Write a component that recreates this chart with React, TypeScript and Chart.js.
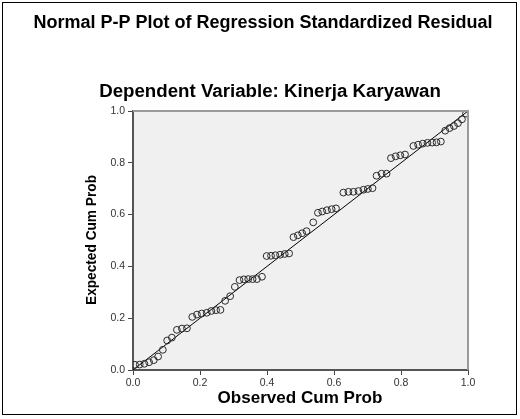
import React, { useEffect, useRef } from "react";
import { Chart, registerables } from "chart.js";

Chart.register(...registerables);

// Observed cumulative probability (x) and expected cumulative probability (y)
const OBSERVED_CUM_PROB = [
  0.006, 0.020, 0.034, 0.048, 0.062, 0.075, 0.089, 0.102, 0.116, 0.131,
  0.146, 0.161, 0.177, 0.191, 0.205, 0.220, 0.234, 0.248, 0.261, 0.275,
  0.290, 0.304, 0.318, 0.331, 0.344, 0.357, 0.370, 0.385, 0.399, 0.412,
  0.425, 0.439, 0.453, 0.466, 0.479, 0.492, 0.505, 0.518, 0.538, 0.552,
  0.565, 0.579, 0.593, 0.606, 0.628, 0.643, 0.658, 0.673, 0.688, 0.701,
  0.715, 0.727, 0.742, 0.757, 0.770, 0.784, 0.798, 0.812, 0.837, 0.851,
  0.865, 0.879, 0.893, 0.906, 0.919, 0.932, 0.945, 0.958, 0.970, 0.982,
  0.994,
];
const EXPECTED_CUM_PROB = [
  0.020, 0.021, 0.024, 0.030, 0.038, 0.052, 0.078, 0.114, 0.125, 0.155,
  0.160, 0.161, 0.205, 0.214, 0.218, 0.221, 0.228, 0.231, 0.232, 0.267,
  0.285, 0.321, 0.347, 0.350, 0.351, 0.351, 0.351, 0.360, 0.440, 0.441,
  0.443, 0.445, 0.448, 0.450, 0.513, 0.520, 0.528, 0.536, 0.570, 0.607,
  0.612, 0.617, 0.621, 0.624, 0.685, 0.688, 0.688, 0.691, 0.696, 0.699,
  0.702, 0.750, 0.758, 0.758, 0.818, 0.825, 0.829, 0.832, 0.865, 0.870,
  0.874, 0.877, 0.878, 0.879, 0.882, 0.924, 0.934, 0.942, 0.953, 0.968,
  0.990,
];
const REFERENCE_LINE_X = [0, 1];
const REFERENCE_LINE_Y = [0, 1];
const TICK_VALUES = [0, 0.2, 0.4, 0.6, 0.8, 1.0];

const TITLE = "Normal P-P Plot of Regression Standardized Residual";
const SUBTITLE = "Dependent Variable: Kinerja Karyawan";
const X_TITLE = "Observed Cum Prob";
const Y_TITLE = "Expected Cum Prob";

const FONT = "Arial, 'Liberation Sans', sans-serif";

function fitText(
  ctx: CanvasRenderingContext2D,
  text: string,
  weight: string,
  targetWidth: number,
  start: number
) {
  let size = start;
  ctx.font = `${weight} ${size}px ${FONT}`;
  const w = ctx.measureText(text).width;
  size = (start * targetWidth) / w;
  ctx.font = `${weight} ${size.toFixed(2)}px ${FONT}`;
}

export default function App() {
  const ref = useRef<HTMLCanvasElement>(null);

  useEffect(() => {
    const canvas = ref.current;
    if (!canvas) return;

    const decor = {
      id: "decor",
      beforeDraw(chart: any) {
        const { ctx, chartArea } = chart;
        ctx.save();
        ctx.fillStyle = "#ffffff";
        ctx.fillRect(0, 0, chart.width, chart.height);
        ctx.fillStyle = "#f0f0f0";
        ctx.fillRect(
          chartArea.left,
          chartArea.top,
          chartArea.right - chartArea.left,
          chartArea.bottom - chartArea.top
        );
        ctx.restore();
      },
      afterDraw(chart: any) {
        const { ctx, chartArea } = chart;
        ctx.save();
        // top and right plot borders
        ctx.strokeStyle = "#9a9a9a";
        ctx.lineWidth = 2;
        ctx.beginPath();
        ctx.moveTo(chartArea.left, chartArea.top);
        ctx.lineTo(chartArea.right, chartArea.top);
        ctx.lineTo(chartArea.right, chartArea.bottom);
        ctx.stroke();

        // outer frame
        ctx.strokeStyle = "#000000";
        ctx.lineWidth = 1;
        ctx.strokeRect(2.5, 2.5, 514, 412);

        ctx.fillStyle = "#000000";
        ctx.textAlign = "center";
        ctx.textBaseline = "middle";

        fitText(ctx, TITLE, "bold", 459, 14);
        ctx.fillText(TITLE, 263, 23);

        fitText(ctx, SUBTITLE, "bold", 342, 14);
        ctx.fillText(SUBTITLE, 270, 92);

        fitText(ctx, X_TITLE, "bold", 165, 14);
        ctx.fillText(X_TITLE, 300, 398);

        ctx.save();
        ctx.translate(92, 240);
        ctx.rotate(-Math.PI / 2);
        ctx.font = `bold 14px ${FONT}`;
        const w = ctx.measureText(Y_TITLE).width;
        ctx.scale(130 / w, 1);
        ctx.fillText(Y_TITLE, 0, 0);
        ctx.restore();

        ctx.restore();
      },
    };

    const points = OBSERVED_CUM_PROB.map((x, i) => ({ x, y: EXPECTED_CUM_PROB[i] }));
    const line = REFERENCE_LINE_X.map((x, i) => ({ x, y: REFERENCE_LINE_Y[i] }));

    const tickFont = { family: FONT, size: 10.5 };

    const chart = new Chart(canvas, {
      type: "scatter",
      data: {
        datasets: [
          {
            label: "line",
            data: line,
            showLine: true,
            borderColor: "#000000",
            borderWidth: 1,
            pointRadius: 0,
            order: 2,
          },
          {
            label: "points",
            data: points,
            pointRadius: 3.4,
            pointBorderWidth: 1,
            pointBorderColor: "#2a2a2a",
            pointBackgroundColor: "rgba(0,0,0,0)",
            showLine: false,
            order: 1,
          },
        ],
      },
      options: {
        animation: false,
        responsive: false,
        devicePixelRatio: 1,
        layout: { padding: { top: 111, right: 52, left: 0, bottom: 0 } },
        plugins: {
          legend: { display: false },
          tooltip: { enabled: false },
          title: { display: false },
        },
        scales: {
          x: {
            type: "linear",
            min: 0,
            max: 1,
            afterBuildTicks: (s: any) => {
              s.ticks = TICK_VALUES.map((v) => ({ value: v }));
            },
            afterFit: (s: any) => {
              s.height = 49;
            },
            ticks: {
              font: tickFont,
              color: "#333333",
              padding: 2,
              maxRotation: 0,
              callback: (v: any) => Number(v).toFixed(1),
            },
            grid: {
              display: true,
              drawOnChartArea: false,
              drawTicks: true,
              tickLength: 5,
              color: "#444444",
              lineWidth: 1,
            },
            border: { display: true, color: "#555555", width: 2 },
          },
          y: {
            type: "linear",
            min: 0,
            max: 1,
            afterBuildTicks: (s: any) => {
              s.ticks = TICK_VALUES.map((v) => ({ value: v }));
            },
            afterFit: (s: any) => {
              s.width = 133;
            },
            ticks: {
              font: tickFont,
              color: "#333333",
              padding: 3,
              callback: (v: any) => Number(v).toFixed(1),
            },
            grid: {
              display: true,
              drawOnChartArea: false,
              drawTicks: true,
              tickLength: 5,
              color: "#444444",
              lineWidth: 1,
            },
            border: { display: true, color: "#555555", width: 2 },
          },
        },
      },
      plugins: [decor],
    } as any);

    return () => chart.destroy();
  }, []);

  return (
    <div style={{ position: "fixed", left: 0, top: 0, width: 520, height: 419, background: "#fff" }}>
      <canvas ref={ref} width={520} height={419} style={{ width: 520, height: 419, display: "block" }} />
    </div>
  );
}
